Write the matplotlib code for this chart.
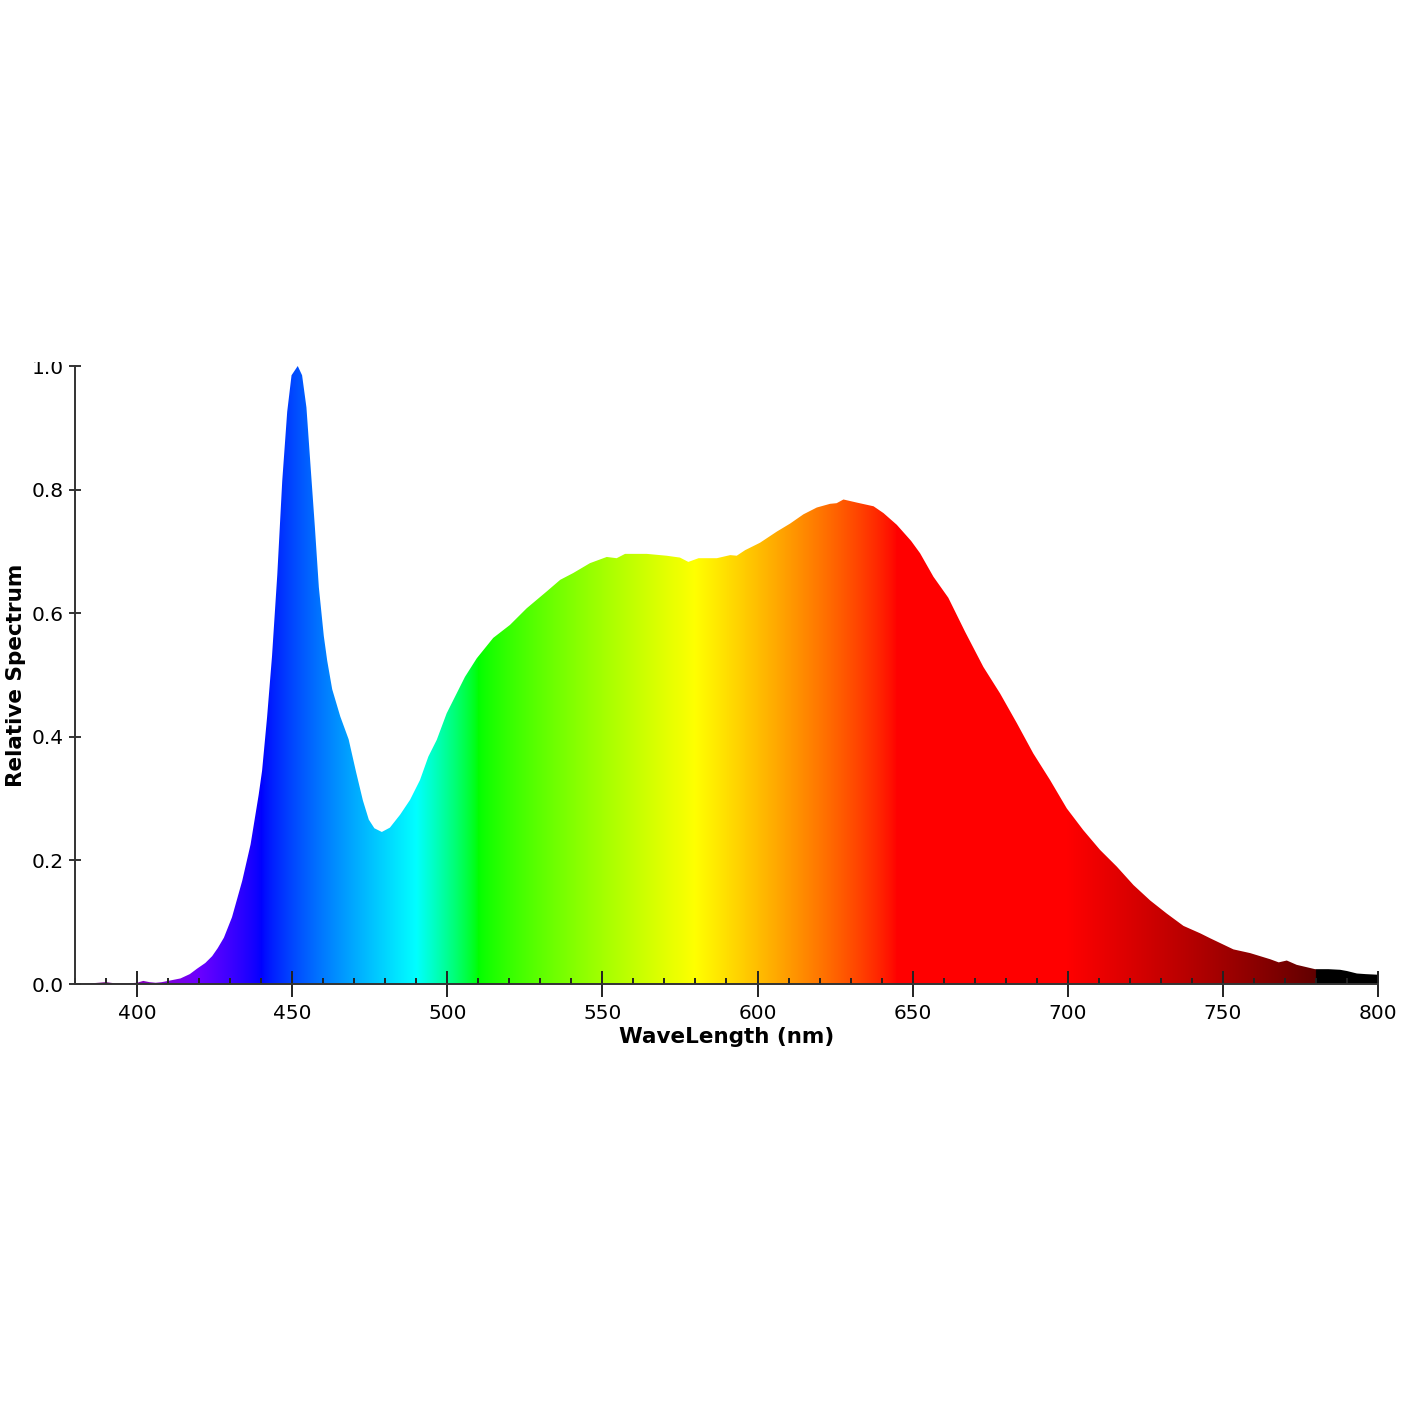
import numpy as np
import matplotlib
matplotlib.use("Agg")
import matplotlib.pyplot as plt
from matplotlib.patches import Polygon
from matplotlib.ticker import MultipleLocator
from matplotlib.transforms import Bbox

# relative spectrum (nm, relative value)
wavelength = [380, 385, 390, 393, 397, 400, 402, 404, 406, 408, 410, 412, 414,
              417, 419.4, 422, 424.2, 426, 428, 430.6, 433.9, 436.6, 439.2,
              440.3, 441.9, 443.5, 445.2, 446.8, 448.4, 449.8, 451.8, 453.2,
              454.6, 455.9, 457.3, 458.6, 460.2, 461.3, 462.9, 465.5, 468.2,
              470.6, 472.8, 474.7, 476.5, 478.9, 481.5, 484.8, 488, 491.2,
              493.9, 496.6, 499.8, 503, 505.7, 509.5, 514.8, 520.2, 525.6,
              532, 536.4, 540.6, 546, 551.4, 554.6, 557.3, 564.3, 570.7, 575,
              577.7, 581, 586.9, 591.2, 593.3, 596, 600.8, 606.2, 610.5, 614.8,
              619.1, 623.4, 625.5, 627.7, 632, 637.4, 640.6, 644.9, 649.5,
              652.4, 656.7, 661.5, 666.9, 672.8, 678.2, 683.6, 688.9, 694.3,
              699.7, 705, 710.4, 715.8, 721.2, 726.6, 731.9, 737.3, 742.7,
              745.9, 753.4, 758.8, 765.3, 768, 770.6, 773.8, 779.7, 784, 787.8,
              790, 793.2, 796, 800]
relative = [0.0, 0.001, 0.003, 0.001, 0.001, 0.002, 0.005, 0.003, 0.002, 0.003,
            0.005, 0.007, 0.009, 0.016, 0.025, 0.034, 0.045, 0.058, 0.075,
            0.108, 0.167, 0.226, 0.306, 0.345, 0.431, 0.53, 0.662, 0.814,
            0.926, 0.985, 1.0, 0.985, 0.933, 0.84, 0.741, 0.642, 0.563, 0.523,
            0.477, 0.433, 0.396, 0.343, 0.297, 0.266, 0.252, 0.246, 0.253,
            0.274, 0.298, 0.33, 0.368, 0.395, 0.438, 0.47, 0.497, 0.527, 0.56,
            0.581, 0.608, 0.635, 0.654, 0.665, 0.681, 0.691, 0.689, 0.696,
            0.696, 0.693, 0.69, 0.683, 0.689, 0.689, 0.694, 0.693, 0.702,
            0.714, 0.732, 0.745, 0.76, 0.771, 0.777, 0.778, 0.784, 0.779,
            0.773, 0.762, 0.743, 0.717, 0.697, 0.659, 0.625, 0.57, 0.513, 0.47,
            0.422, 0.373, 0.33, 0.284, 0.249, 0.217, 0.19, 0.16, 0.135, 0.114,
            0.094, 0.082, 0.074, 0.056, 0.05, 0.04, 0.035, 0.038, 0.031, 0.024,
            0.024, 0.023, 0.021, 0.017, 0.016, 0.015]


def wl_to_rgb(w, gamma=0.8):
    # Dan Bruton style visible spectrum colour
    if 380 <= w < 440:
        r, g, b = -(w - 440) / 60, 0.0, 1.0
    elif 440 <= w < 490:
        r, g, b = 0.0, (w - 440) / 50, 1.0
    elif 490 <= w < 510:
        r, g, b = 0.0, 1.0, -(w - 510) / 20
    elif 510 <= w < 580:
        r, g, b = (w - 510) / 70, 1.0, 0.0
    elif 580 <= w < 645:
        r, g, b = 1.0, -(w - 645) / 65, 0.0
    elif 645 <= w <= 780:
        r, g, b = 1.0, 0.0, 0.0
    else:
        r, g, b = 0.0, 0.0, 0.0
    if 380 <= w < 420:
        f = 0.3 + 0.7 * (w - 380) / 40
    elif 420 <= w < 700:
        f = 1.0
    elif 700 <= w <= 780:
        f = 0.3 + 0.7 * (780 - w) / 80
    else:
        f = 0.0
    return [(c * f) ** gamma if c > 0 else 0.0 for c in (r, g, b)]


fig = plt.figure(figsize=(14.2, 14.2), dpi=100)
ax = fig.add_axes([75 / 1420, 436 / 1420, 1303 / 1420, 618 / 1420])

grid = np.arange(380, 800.01, 0.25)
colours = np.array([[wl_to_rgb(w) for w in grid]])
img = ax.imshow(colours, extent=[380, 800, 0, 1], aspect="auto",
                interpolation="bilinear", origin="lower")

verts = [(wavelength[0], 0)] + list(zip(wavelength, relative)) + [(wavelength[-1], 0)]
shape = Polygon(verts, closed=True, facecolor="none", edgecolor="none")
ax.add_patch(shape)
img.set_clip_path(shape)

ax.set_xlim(380, 800)
ax.set_ylim(0, 1.0)

for s in ["top", "right"]:
    ax.spines[s].set_visible(False)
for s in ["left", "bottom"]:
    ax.spines[s].set_color("#333333")
    ax.spines[s].set_linewidth(1.4)

ax.xaxis.set_major_locator(MultipleLocator(50))
ax.xaxis.set_minor_locator(MultipleLocator(10))
ax.tick_params(axis="x", which="major", direction="inout", length=19, width=1.4,
               color="#222222", labelsize=14.5, pad=5)
ax.tick_params(axis="x", which="minor", direction="in", length=4, width=1.4,
               color="#222222")
ax.tick_params(axis="y", which="major", direction="inout", length=8.5, width=1.4,
               color="#333333", labelsize=14.5, pad=4)
ax.set_yticks([0, 0.2, 0.4, 0.6, 0.8, 1.0])
ax.set_yticklabels(["0.0", "0.2", "0.4", "0.6", "0.8", "1.0"])

ax.set_xlabel("WaveLength (nm)", fontsize=15.5, fontweight="bold", labelpad=3)
ax.set_ylabel("Relative Spectrum", fontsize=15.5, fontweight="bold", labelpad=4)

# the top tick label is clipped in the reference
top_label = ax.get_yticklabels()[-1]
top_label.set_clip_on(True)
top_label.set_clip_box(Bbox([[0, 0], [1420, 1420 - 362]]))

fig.savefig("out.png", dpi=100, facecolor="white")
